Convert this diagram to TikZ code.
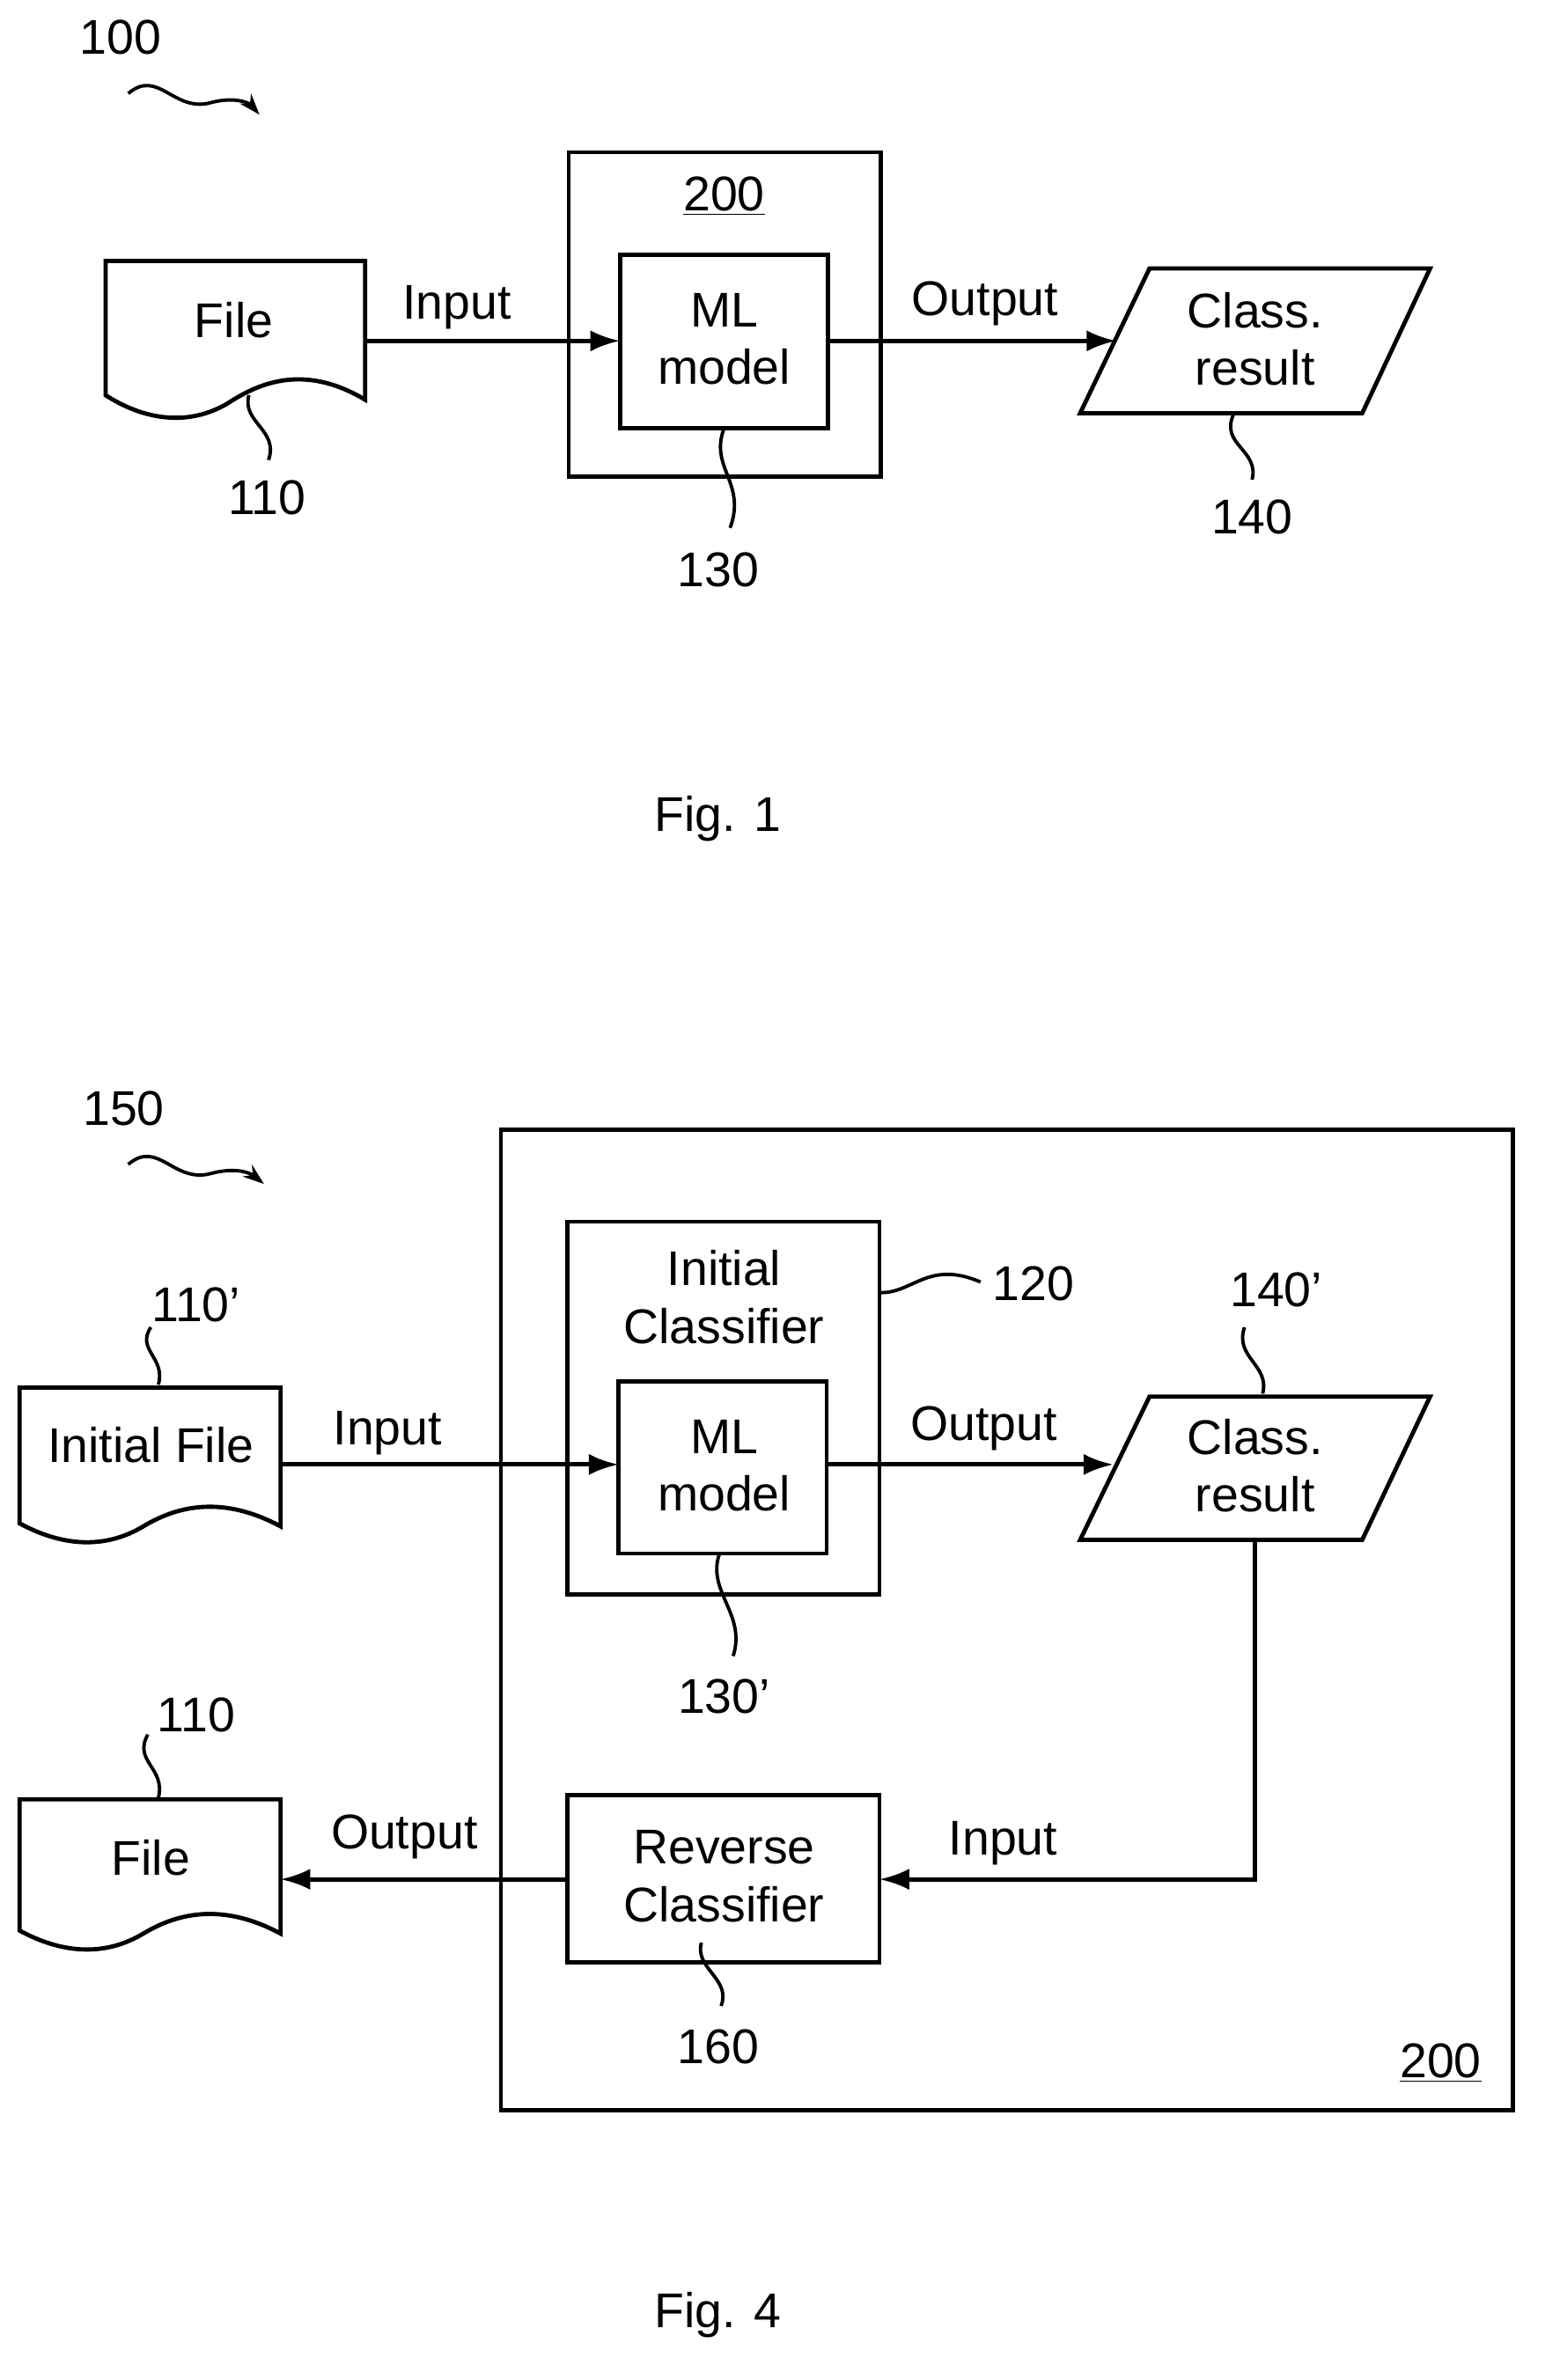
\documentclass[tikz,border=0pt]{standalone}
\usepackage{fontspec}
\setmainfont{Liberation Sans}
\usetikzlibrary{arrows.meta}
\begin{document}
\begin{tikzpicture}[x=0.025cm,y=-0.025cm,
  box/.style={draw,line width=2pt},
  arr/.style={line width=2pt,-{Latex[length=14pt,width=10pt]}},
  sq/.style={line width=1.6pt},
  sqa/.style={line width=1.6pt,-{Stealth[length=10pt,width=7pt]}},
  t/.style={font=\fontsize{23}{27}\selectfont,align=center,inner sep=0pt}]
\useasboundingbox (0,0) rectangle (1024,1578);
% ---------- Fig 1 ----------
\node[t] (n100) at (80,25) {100};
\draw[sqa] (85,62) .. controls (105,45) and (115,75) .. (140,68) .. controls (155,64) and (165,68) .. (172,76);
\draw[box] (70,173) -- (242,173) -- (242,265) .. controls (200,240) and (170,255) .. (150,268) .. controls (120,285) and (90,275) .. (70,262) -- cycle;
\node[t] (file1) at (155,212) {File};
\coordinate (f1b) at (165,262);
\node[t] (n110) at (177,330) {110};
\draw[sq] (f1b) .. controls (160,280) and (185,285) .. (178,305);
\draw[box] (377,101) rectangle (584,316);
\node[t] (b200) at (480,130) {\underline{200}};
\draw[box] (411,169) rectangle (549,284);
\node[t] (ml1) at (480,225) {ML\\model};
\coordinate (ml1l) at (411,226); \coordinate (ml1r) at (549,226);
\draw[arr] (242,226) -- (ml1l);
\node[t] (in1) at (303,204) {Input};
\coordinate (p1l) at (740,226);
\draw[arr] (ml1r) -- (p1l);
\node[t] (out1) at (653,201) {Output};
\draw[box] (762,178) -- (948,178) -- (903,274) -- (716,274) -- cycle;
\node[t] (cr1) at (832,225) {Class.\\result};
\node[t] (n140) at (830,343) {140};
\draw[sq] (818,274) .. controls (808,295) and (835,298) .. (830,318);
\node[t] (n130) at (476,378) {130};
\draw[sq] (480,284) .. controls (470,310) and (495,320) .. (484,350);
\node[t] (fig1) at (476,543) {Fig. 1};
% ---------- Fig 4 ----------
\node[t] (n150) at (82,735) {150};
\draw[sqa] (85,772) .. controls (105,755) and (115,785) .. (140,778) .. controls (155,774) and (165,777) .. (175,785);
\draw[box] (332,749) rectangle (1003,1399);
\node[t] (b200b) at (955,1368) {\underline{200}};
\draw[box] (376,810) rectangle (583,1057);
\node[t] (ic) at (480,860) {Initial\\Classifier};
\draw[box] (410,916) rectangle (548,1030);
\node[t] (ml2) at (480,972) {ML\\model};
\node[t] (n120) at (685,851) {120};
\draw[sq] (583,857) .. controls (605,858) and (615,835) .. (650,850);
\draw[box] (13,920) -- (186,920) -- (186,1012) .. controls (145,990) and (115,1000) .. (95,1012) .. controls (65,1030) and (35,1022) .. (13,1010) -- cycle;
\node[t] (if) at (100,958) {Initial File};
\node[t] (n110p) at (130,865) {110'};
\draw[sq] (105,918) .. controls (110,900) and (90,895) .. (100,880);
\draw[arr] (186,971) -- (410,971);
\node[t] (in2) at (257,950) {Input};
\draw[arr] (548,971) -- (738,971);
\node[t] (out2) at (652,947) {Output};
\draw[box] (762,926) -- (948,926) -- (903,1021) -- (716,1021) -- cycle;
\node[t] (cr2) at (832,972) {Class.\\result};
\node[t] (n140p) at (846,855) {140'};
\draw[sq] (837,924) .. controls (842,905) and (818,900) .. (825,880);
\node[t] (n130p) at (480,1125) {130'};
\draw[sq] (477,1030) .. controls (468,1055) and (495,1070) .. (486,1098);
\draw[arr] (832,1021) -- (832,1246) -- (583,1246);
\node[t] (in3) at (665,1222) {Input};
\draw[box] (376,1190) rectangle (583,1301);
\node[t] (rc) at (480,1244) {Reverse\\Classifier};
\node[t] (n160) at (476,1357) {160};
\draw[sq] (465,1288) .. controls (460,1305) and (485,1312) .. (478,1330);
\draw[box] (13,1193) -- (186,1193) -- (186,1282) .. controls (145,1260) and (115,1270) .. (95,1282) .. controls (65,1300) and (35,1292) .. (13,1280) -- cycle;
\node[t] (file2) at (100,1232) {File};
\node[t] (n110b) at (130,1137) {110};
\draw[sq] (105,1192) .. controls (110,1172) and (88,1168) .. (98,1150);
\draw[arr] (376,1246) -- (186,1246);
\node[t] (out3) at (268,1218) {Output};
\node[t] (fig4) at (476,1535) {Fig. 4};
\end{tikzpicture}
\end{document}
